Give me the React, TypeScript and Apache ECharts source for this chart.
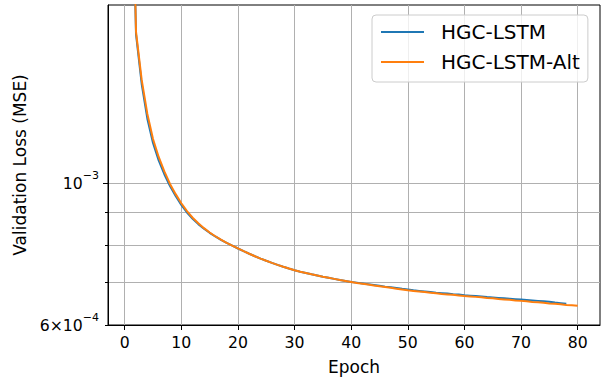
import React, { useEffect, useRef } from "react";
import * as echarts from "echarts";

// validation loss, in units of 1e-3 (MSE)
const hgcLstmE3 = [
  4.0, 1.71, 1.43, 1.262, 1.156, 1.086, 1.033, 0.99, 0.955, 0.925,
  0.9, 0.88, 0.863, 0.849, 0.8365, 0.8255, 0.8155, 0.8065, 0.7985, 0.7905,
  0.7829, 0.7756, 0.7686, 0.7623, 0.7563, 0.7505, 0.7452, 0.7401, 0.7353, 0.7308,
  0.7271, 0.7237, 0.7203, 0.7172, 0.7141, 0.7113, 0.7085, 0.7057, 0.7032, 0.7006,
  0.699, 0.697, 0.695, 0.693, 0.691, 0.689, 0.6875, 0.6855, 0.6835, 0.682,
  0.68, 0.6785, 0.677, 0.6755, 0.674, 0.673, 0.672, 0.6705, 0.6695, 0.668,
  0.667, 0.666, 0.665, 0.6635, 0.6625, 0.6615, 0.6605, 0.6595, 0.6585, 0.6575,
  0.6565, 0.6555, 0.6545, 0.6535, 0.6525, 0.6505, 0.649, 0.6475,
];
const hgcLstmAltE3 = [
  4.2, 1.725, 1.451, 1.284, 1.173, 1.0994, 1.0435, 0.9975, 0.9615, 0.9304,
  0.9044, 0.8831, 0.8657, 0.8506, 0.8375, 0.8261, 0.816, 0.8069, 0.7986, 0.7906,
  0.7829, 0.7756, 0.7686, 0.7623, 0.7563, 0.7505, 0.7452, 0.7401, 0.7353, 0.7308,
  0.7271, 0.7237, 0.7203, 0.7172, 0.7141, 0.7113, 0.7085, 0.7057, 0.7032, 0.7006,
  0.698, 0.696, 0.694, 0.692, 0.69, 0.688, 0.686, 0.684, 0.682, 0.68,
  0.6785, 0.677, 0.6755, 0.674, 0.6725, 0.671, 0.67, 0.669, 0.6675, 0.666,
  0.665, 0.664, 0.663, 0.6615, 0.6605, 0.659, 0.658, 0.657, 0.6555, 0.6545,
  0.6535, 0.652, 0.651, 0.65, 0.6485, 0.6475, 0.6465, 0.645, 0.644, 0.643,
];
const seriesNames = ["HGC-LSTM", "HGC-LSTM-Alt"];
const seriesColors = ["#1f77b4", "#ff7f0e"];
const xTicks = [0, 10, 20, 30, 40, 50, 60, 70, 80];
const yMajorTicks = [1e-3];
const yMinorTicks = [6e-4, 7e-4, 8e-4, 9e-4];
const yLabelTicks = [6e-4, 1e-3];

const FONT = "DejaVu Sans";

export default function App() {
  const ref = useRef<HTMLDivElement>(null);
  useEffect(() => {
    document.body.style.margin = "0";
    const chart = echarts.init(ref.current!, null, { renderer: "svg" });
    const toPairs = (arr: number[]) => arr.map((v, i) => [i + 1, v * 1e-3]);
    const yMin = 6e-4;
    const yMax = 1.901e-3;
    const labelFmt = (v: number) => {
      const e = Math.floor(Math.log10(v) + 1e-9);
      const m = Math.round(v / Math.pow(10, e));
      const sup = "−" + String(-e);
      return m === 1 ? `{b|10}{s|${sup}}` : `{b|${m}×10}{s|${sup}}`;
    };
    const gridLine = { show: true, lineStyle: { color: "#b0b0b0", width: 1 } };
    chart.setOption({
      animation: false,
      grid: {
        left: 108, right: 6, top: 5, bottom: 56,
        containLabel: false,
        outerBoundsMode: "none",
        show: true, borderColor: "#000", borderWidth: 1, backgroundColor: "transparent",
      },
      legend: {
        left: 372,
        top: 15,
        orient: "vertical",
        data: seriesNames,
        itemWidth: 43,
        itemHeight: 14,
        itemGap: 10,
        padding: [7, 8, 10, 8],
        backgroundColor: "rgba(255,255,255,0.8)",
        borderColor: "#cccccc",
        borderWidth: 1,
        borderRadius: 4,
        itemStyle: { opacity: 0 },
        textStyle: { fontFamily: FONT, fontSize: 20, color: "#000", lineHeight: 20, padding: [0, 0, 0, 12] },
      },
      xAxis: {
        type: "value",
        min: -2.95,
        max: 83.95,
        name: "Epoch",
        nameLocation: "middle",
        nameGap: 33,
        nameTextStyle: { fontFamily: FONT, fontSize: 17, color: "#000" },
        axisLine: { show: true, onZero: false, lineStyle: { color: "#000", width: 1 } },
        axisTick: { show: true, length: 5, lineStyle: { color: "#000" }, customValues: xTicks },
        axisLabel: { fontFamily: FONT, fontSize: 15.7, color: "#000", margin: 9, customValues: xTicks },
        splitLine: gridLine,
      },
      yAxis: [
        {
          type: "log",
          logBase: 10,
          min: yMin,
          max: yMax,
          name: "Validation Loss (MSE)",
          nameLocation: "middle",
          nameGap: 64,
          nameTextStyle: { fontFamily: FONT, fontSize: 17, color: "#000" },
          axisLine: { show: true, onZero: false, lineStyle: { color: "#000", width: 1 } },
          axisTick: { show: true, length: 5, lineStyle: { color: "#000" }, customValues: yMajorTicks },
          axisLabel: {
            customValues: yLabelTicks,
            margin: 9,
            formatter: labelFmt,
            rich: {
              b: { fontFamily: FONT, fontSize: 15.7, color: "#000", lineHeight: 26 },
              s: { fontFamily: FONT, fontSize: 11, color: "#000", lineHeight: 11, verticalAlign: "top" },
            },
          },
          splitLine: gridLine,
        },
        {
          type: "log",
          logBase: 10,
          min: yMin,
          max: yMax,
          position: "left",
          axisLine: { show: false, onZero: false },
          axisTick: { show: true, length: 3, lineStyle: { color: "#000" }, customValues: yMinorTicks },
          axisLabel: { show: false },
          splitLine: { show: true, lineStyle: { color: "#b0b0b0", width: 1 } },
        },
      ],
      series: [hgcLstmE3, hgcLstmAltE3].map((arr, i) => ({
        name: seriesNames[i],
        type: "line",
        data: toPairs(arr),
        symbol: "none",
        color: seriesColors[i],
        lineStyle: { width: 2, color: seriesColors[i] },
        clip: true,
        z: 3 + i,
      })),
    });
    return () => chart.dispose();
  }, []);
  return <div ref={ref} style={{ width: 606, height: 381 }} />;
}
